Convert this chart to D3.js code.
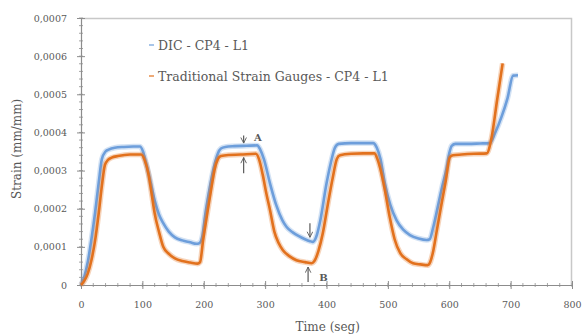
<!DOCTYPE html>
<html>
<head>
<meta charset="utf-8">
<script src="https://cdn.jsdelivr.net/npm/d3@7"></script>
<style>
  body { margin: 0; background: #fff; }
  svg text { font-family: "DejaVu Serif", serif; fill: #595959; }
</style>
</head>
<body>
<div class="chart"></div>
<script>
var svgWidth = 582;
var svgHeight = 336;

var margin = { top: 18, right: 10, bottom: 51, left: 81 };
var width = 572 - margin.left;
var height = 285 - margin.top;

// DIC series (time in s, strain in 1e-4 mm/mm)
var dicTime = [0, 5, 11, 17, 23, 29, 34, 40, 45, 55, 70, 85, 96, 101, 106, 112, 120, 127, 134, 143, 153, 165, 178, 188, 193, 198, 202, 208, 214, 219, 223, 228, 235, 250, 270, 287, 292, 298, 308, 318, 328, 335, 345, 355, 365, 373, 378, 383, 390, 400, 407, 414, 420, 440, 460, 476, 482, 488, 495, 504, 514, 525, 536, 550, 563, 568, 574, 580, 588, 596, 600, 604, 610, 630, 650, 666, 675, 685, 695, 704, 712];
var dicStrain = [0, 0.2, 0.6, 1.2, 1.9, 2.7, 3.3, 3.5, 3.55, 3.6, 3.62, 3.63, 3.63, 3.5, 3.2, 2.8, 2.22, 1.85, 1.62, 1.4, 1.25, 1.17, 1.12, 1.08, 1.1, 1.3, 1.8, 2.4, 2.9, 3.25, 3.45, 3.58, 3.62, 3.64, 3.65, 3.66, 3.55, 3.3, 2.66, 2.1, 1.7, 1.52, 1.38, 1.28, 1.2, 1.15, 1.13, 1.25, 1.7, 2.66, 3.2, 3.61, 3.7, 3.72, 3.72, 3.72, 3.6, 3.3, 2.66, 2.1, 1.7, 1.45, 1.31, 1.22, 1.18, 1.2, 1.52, 1.95, 2.55, 3.09, 3.45, 3.65, 3.7, 3.7, 3.71, 3.72, 4.0, 4.4, 4.9, 5.49, 5.5];

// Traditional strain gauges series
var sgTime = [0, 5, 11, 17, 23, 29, 34, 39, 44, 50, 60, 80, 98, 104, 110, 115, 120, 127, 134, 143, 153, 165, 178, 190, 194, 199, 205, 212, 218, 223, 228, 240, 260, 285, 290, 296, 302, 308, 315, 322, 329, 340, 351, 365, 376, 380, 387, 394, 402, 410, 417, 422, 440, 460, 478, 483, 487, 495, 503, 511, 520, 530, 541, 553, 565, 569, 574, 579, 586, 594, 601, 606, 620, 640, 661, 669, 678, 687];
var sgStrain = [0, 0.1, 0.3, 0.65, 1.17, 1.9, 2.6, 3.15, 3.28, 3.34, 3.38, 3.42, 3.42, 3.26, 2.9, 2.4, 1.88, 1.4, 1.0, 0.82, 0.7, 0.63, 0.59, 0.56, 0.6, 1.18, 1.8, 2.5, 3.05, 3.3, 3.38, 3.41, 3.42, 3.44, 3.3, 2.9, 2.4, 1.96, 1.4, 1.1, 0.91, 0.75, 0.65, 0.6, 0.57, 0.62, 0.9, 1.36, 2.1, 2.8, 3.31, 3.4, 3.44, 3.45, 3.45, 3.3, 3.09, 2.5, 1.78, 1.2, 0.84, 0.68, 0.57, 0.54, 0.52, 0.6, 0.9, 1.36, 2.0, 2.7, 3.35, 3.4, 3.42, 3.44, 3.45, 3.87, 4.85, 5.81];

var seriesNames = ["DIC - CP4 - L1", "Traditional Strain Gauges - CP4 - L1"];
var seriesColors = ["#6d9edb", "#e2711d"];

var xTicks = [0, 100, 200, 300, 400, 500, 600, 700, 800];
var yTicks = [0, 0.0001, 0.0002, 0.0003, 0.0004, 0.0005, 0.0006, 0.0007];
var yTickLabels = ["0", "0,0001", "0,0002", "0,0003", "0,0004", "0,0005", "0,0006", "0,0007"];

// arrow annotations: [time, fromStrain, toStrain] (1e-4)
var arrowTime = [265, 265, 373, 370];
var arrowFrom = [3.92, 2.93, 1.62, 0.08];
var arrowTo = [3.72, 3.34, 1.25, 0.47];
var labelText = ["A", "B"];
var labelTime = [288, 395];
var labelStrain = [3.78, 0.1];

var svg = d3.select(".chart")
  .append("svg")
  .attr("width", svgWidth)
  .attr("height", svgHeight);

var chartGroup = svg.append("g")
  .attr("transform", `translate(${margin.left}, ${margin.top})`);

var xScale = d3.scaleLinear().domain([0, 800]).range([0, width]);
var yScale = d3.scaleLinear().domain([0, 0.0007]).range([height, 0]);

svg.append("defs").append("marker")
  .attr("id", "arrow")
  .attr("viewBox", "0 0 10 10")
  .attr("refX", 9)
  .attr("refY", 5)
  .attr("markerWidth", 7)
  .attr("markerHeight", 7)
  .attr("markerUnits", "userSpaceOnUse")
  .attr("orient", "auto")
  .append("path")
  .attr("d", "M1,1 L9,5 L1,9")
  .attr("fill", "none")
  .attr("stroke", "#595959")
  .attr("stroke-width", 1.3);

// plot border (top / right)
chartGroup.append("path")
  .attr("d", `M0,0.5 H${width - 0.5} V${height}`)
  .attr("fill", "none")
  .attr("stroke", "#c8c8c8")
  .attr("stroke-width", 1.5);

// minor ticks
var xMinor = d3.range(0, 801, 20);
var yMinor = d3.range(0, 0.00070001, 0.00002);

chartGroup.append("g")
  .selectAll("line")
  .data(xMinor)
  .enter()
  .append("line")
  .attr("x1", d => xScale(d))
  .attr("x2", d => xScale(d))
  .attr("y1", height - 2)
  .attr("y2", height + 2)
  .attr("stroke", "#a6a6a6");

chartGroup.append("g")
  .selectAll("line")
  .data(yMinor)
  .enter()
  .append("line")
  .attr("x1", -2)
  .attr("x2", 2)
  .attr("y1", d => yScale(d))
  .attr("y2", d => yScale(d))
  .attr("stroke", "#a6a6a6");

// axes
var bottomAxis = d3.axisBottom(xScale)
  .tickValues(xTicks)
  .tickSizeInner(4)
  .tickSizeOuter(0)
  .tickPadding(12);

var leftAxis = d3.axisLeft(yScale)
  .tickValues(yTicks)
  .tickFormat((d, i) => yTickLabels[i])
  .tickSizeInner(4)
  .tickSizeOuter(0)
  .tickPadding(10);

var xAxis = chartGroup.append("g")
  .attr("transform", `translate(0, ${height})`)
  .call(bottomAxis);

var yAxis = chartGroup.append("g")
  .call(leftAxis);

[xAxis, yAxis].forEach(ax => {
  ax.select(".domain").attr("stroke", "#8c8c8c").attr("stroke-width", 1.2);
  ax.selectAll(".tick line").attr("stroke", "#8c8c8c");
  ax.selectAll(".tick text")
    .attr("font-family", "DejaVu Serif")
    .attr("font-size", "9.5px")
    .attr("fill", "#595959");
});
xAxis.selectAll(".tick line").attr("y1", -4);
yAxis.selectAll(".tick line").attr("x1", 4);

// axis titles
chartGroup.append("text")
  .attr("transform", "rotate(-90)")
  .attr("x", 0 - (yScale(0.000357)))
  .attr("y", 0 - margin.left + 21)
  .attr("text-anchor", "middle")
  .attr("font-size", "12px")
  .text("Strain (mm/mm)");

chartGroup.append("text")
  .attr("x", xScale(402))
  .attr("y", height + 46)
  .attr("text-anchor", "middle")
  .attr("font-size", "12px")
  .text("Time (seg)");

// lines
var line = d3.line()
  .x(d => xScale(d[0]))
  .y(d => yScale(d[1] * 1e-4))
  .curve(d3.curveMonotoneX);

var dicData = dicTime.map((t, i) => [t, dicStrain[i]]);
var sgData = sgTime.map((t, i) => [t, sgStrain[i]]);
var allSeries = [dicData, sgData];

allSeries.forEach((data, i) => {
  chartGroup.append("path")
    .datum(data)
    .attr("d", line)
    .attr("fill", "none")
    .attr("stroke", seriesColors[i])
    .attr("stroke-opacity", 0.3)
    .attr("stroke-width", 5.5)
    .attr("stroke-linejoin", "round");
  chartGroup.append("path")
    .datum(data)
    .attr("d", line)
    .attr("fill", "none")
    .attr("stroke", seriesColors[i])
    .attr("stroke-width", 2.6)
    .attr("stroke-linejoin", "round");
});

// arrows A / B
chartGroup.append("g")
  .selectAll("line")
  .data(arrowTime)
  .enter()
  .append("line")
  .attr("x1", d => xScale(d))
  .attr("x2", d => xScale(d))
  .attr("y1", (d, i) => yScale(arrowFrom[i] * 1e-4))
  .attr("y2", (d, i) => yScale(arrowTo[i] * 1e-4))
  .attr("stroke", "#595959")
  .attr("stroke-width", 1.2)
  .attr("marker-end", "url(#arrow)");

chartGroup.append("g")
  .selectAll("text")
  .data(labelText)
  .enter()
  .append("text")
  .attr("x", (d, i) => xScale(labelTime[i]))
  .attr("y", (d, i) => yScale(labelStrain[i] * 1e-4))
  .attr("font-family", "DejaVu Sans")
  .attr("font-size", "10px")
  .attr("font-weight", "bold")
  .attr("fill", "#595959")
  .attr("text-anchor", "middle")
  .text(d => d);

// legend
var legend = chartGroup.append("g")
  .attr("transform", "translate(68, 27)");

seriesNames.forEach((name, i) => {
  var row = legend.append("g").attr("transform", `translate(0, ${i * 31})`);
  row.append("line")
    .attr("x1", 0)
    .attr("x2", 5)
    .attr("y1", 0)
    .attr("y2", 0)
    .attr("stroke", seriesColors[i])
    .attr("stroke-opacity", 0.6)
    .attr("stroke-width", 2);
  row.append("text")
    .attr("x", 9)
    .attr("y", 4.5)
    .attr("font-size", "12.5px")
    .attr("fill", "#404040")
    .text(name);
});
</script>
</body>
</html>
